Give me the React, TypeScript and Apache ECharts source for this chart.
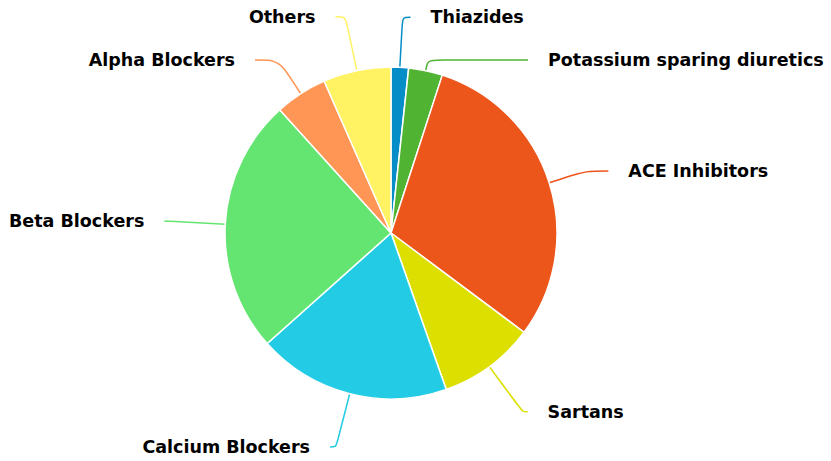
import React, { useEffect, useRef } from "react";
import * as echarts from "echarts";

const categories = [
  "Thiazides",
  "Potassium sparing diuretics",
  "ACE Inhibitors",
  "Sartans",
  "Calcium Blockers",
  "Beta Blockers",
  "Alpha Blockers",
  "Others",
];
const values = [1.7, 3.3, 30.2, 9.4, 18.8, 24.9, 5.1, 6.6];
const colors = ["#058DC7", "#50B432", "#ED561B", "#DDDF00", "#24CBE5", "#64E572", "#FF9655", "#FFF263"];
// leader-line styling per slice (first and second segment lengths)
const lineLen1 = [50, 11, 39, 56, 55, 55, 40, 55];
const lineLen2 = [8, 100, 22, 5, 6, 6, 24, 10];

export default function App() {
  const ref = useRef<HTMLDivElement>(null);
  useEffect(() => {
    if (!ref.current) return;
    const chart = echarts.init(ref.current, undefined, { renderer: "svg" });
    chart.setOption({
      animation: false,
      backgroundColor: "#ffffff",
      series: [
        {
          type: "pie",
          center: [391, 233],
          radius: 166,
          startAngle: 90,
          clockwise: true,
          avoidLabelOverlap: true,
          data: categories.map((name, i) => ({
            name,
            value: values[i],
            itemStyle: { color: colors[i] },
            labelLine: {
              length: lineLen1[i],
              length2: lineLen2[i],
              lineStyle: { color: colors[i] },
            },
          })),
          itemStyle: { borderColor: "#ffffff", borderWidth: 1.5 },
          label: {
            show: true,
            position: "outside",
            formatter: "{b}",
            color: "#000000",
            fontFamily: "DejaVu Sans",
            fontWeight: "bold",
            fontSize: 17.5,
            distanceToLabelLine: 20,
            overflow: "none",
          },
          labelLine: {
            show: true,
            smooth: true,
            lineStyle: { width: 1.5 },
          },
          emphasis: { disabled: true },
        },
      ],
    });
    return () => chart.dispose();
  }, []);
  return (
    <div
      ref={ref}
      style={{ position: "fixed", left: 0, top: 0, width: 831, height: 461 }}
    />
  );
}
